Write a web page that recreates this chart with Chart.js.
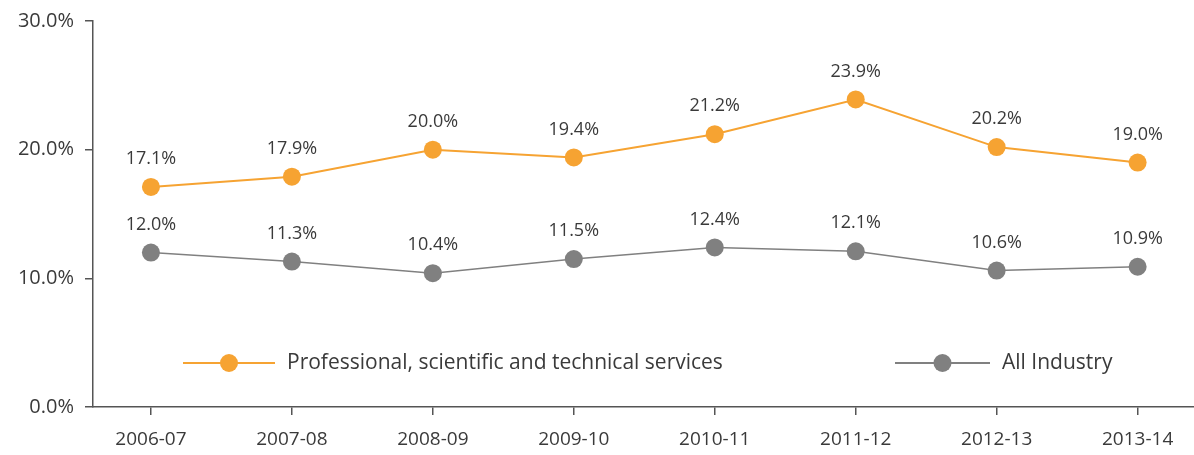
<!DOCTYPE html>
<html>
<head>
<meta charset="utf-8">
<script src="https://cdn.jsdelivr.net/npm/chart.js@4.4.1/dist/chart.umd.min.js"></script>
<style>
  html, body { margin: 0; padding: 0; background: #fff; }
  #wrap { width: 1194px; height: 455px; position: relative; }
</style>
</head>
<body>
<div id="wrap"><canvas id="c" width="1194" height="455"></canvas></div>
<script>
const categories = ['2006-07', '2007-08', '2008-09', '2009-10', '2010-11', '2011-12', '2012-13', '2013-14'];
const professionalValues = [17.1, 17.9, 20.0, 19.4, 21.2, 23.9, 20.2, 19.0];
const allIndustryValues = [12.0, 11.3, 10.4, 11.5, 12.4, 12.1, 10.6, 10.9];
const yTickValues = [0, 10, 20, 30];
const seriesNames = ['Professional, scientific and technical services', 'All Industry'];

const ORANGE = '#F6A332';
const GREY = '#808080';
const TEXT = '#3a3a3a';
const FONT = '"Open Sans", "Noto Sans", sans-serif';

const toPoints = vals => vals.map((v, i) => ({ x: i, y: v }));

// Value labels above each point
const valueLabels = {
  id: 'valueLabels',
  afterDatasetsDraw(chart) {
    const ctx = chart.ctx;
    ctx.save();
    ctx.font = '18px ' + FONT;
    ctx.fillStyle = TEXT;
    ctx.textAlign = 'center';
    ctx.textBaseline = 'middle';
    chart.data.datasets.forEach((ds, di) => {
      chart.getDatasetMeta(di).data.forEach((pt, i) => {
        ctx.fillText(ds.data[i].y.toFixed(1) + '%', pt.x, pt.y - 28);
      });
    });
    ctx.restore();
  }
};

// Legend drawn inside the plot area
const innerLegend = {
  id: 'innerLegend',
  afterDraw(chart) {
    const ctx = chart.ctx;
    const y = 363;
    const items = [
      { x0: 183, x1: 275, color: ORANGE, text: seriesNames[0] },
      { x0: 895, x1: 990, color: GREY, text: seriesNames[1] }
    ];
    ctx.save();
    items.forEach(it => {
      ctx.strokeStyle = it.color;
      ctx.lineWidth = 2;
      ctx.beginPath();
      ctx.moveTo(it.x0, y);
      ctx.lineTo(it.x1, y);
      ctx.stroke();
      ctx.fillStyle = it.color;
      ctx.beginPath();
      ctx.arc((it.x0 + it.x1) / 2, y, 9, 0, Math.PI * 2);
      ctx.fill();
      ctx.font = '21px ' + FONT;
      ctx.fillStyle = TEXT;
      ctx.textAlign = 'left';
      ctx.textBaseline = 'middle';
      ctx.fillText(it.text, it.x1 + 12, y);
    });
    ctx.restore();
  }
};

new Chart(document.getElementById('c'), {
  type: 'line',
  data: {
    datasets: [
      {
        label: seriesNames[0],
        data: toPoints(professionalValues),
        borderColor: ORANGE,
        backgroundColor: ORANGE,
        borderWidth: 2,
        pointRadius: 9,
        pointBorderWidth: 0,
        pointHoverRadius: 9,
        tension: 0
      },
      {
        label: seriesNames[1],
        data: toPoints(allIndustryValues),
        borderColor: GREY,
        backgroundColor: GREY,
        borderWidth: 1.5,
        pointRadius: 9,
        pointBorderWidth: 0,
        pointHoverRadius: 9,
        tension: 0
      }
    ]
  },
  options: {
    responsive: false,
    animation: false,
    events: [],
    layout: { autoPadding: false, padding: { top: 21, right: 0, left: 0, bottom: 0 } },
    plugins: {
      legend: { display: false },
      tooltip: { enabled: false },
      title: { display: false }
    },
    scales: {
      x: {
        type: 'linear',
        min: -0.411,
        max: 7.4,
        afterBuildTicks: s => { s.ticks = categories.map((_, i) => ({ value: i })); },
        afterFit: s => { s.height = 48; s.paddingLeft = 0; s.paddingRight = 0; },
        ticks: {
          callback: v => categories[v],
          font: { size: 19, family: FONT },
          color: TEXT,
          padding: 13,
          maxRotation: 0,
          autoSkip: false
        },
        grid: { drawOnChartArea: false, drawTicks: true, tickLength: 8, color: '#555', lineWidth: 1.5 },
        border: { display: true, color: '#555', width: 1.5 }
      },
      y: {
        min: 0,
        max: 30,
        afterBuildTicks: s => { s.ticks = yTickValues.map(v => ({ value: v })); },
        afterFit: s => { s.width = 93; s.paddingTop = 0; s.paddingBottom = 0; },
        ticks: {
          callback: v => v.toFixed(1) + '%',
          font: { size: 20, family: FONT },
          color: TEXT,
          padding: 11
        },
        grid: { drawOnChartArea: false, drawTicks: true, tickLength: 8, color: '#555', lineWidth: 1.5 },
        border: { display: true, color: '#555', width: 1.5 }
      }
    }
  },
  plugins: [valueLabels, innerLegend]
});
</script>
</body>
</html>
